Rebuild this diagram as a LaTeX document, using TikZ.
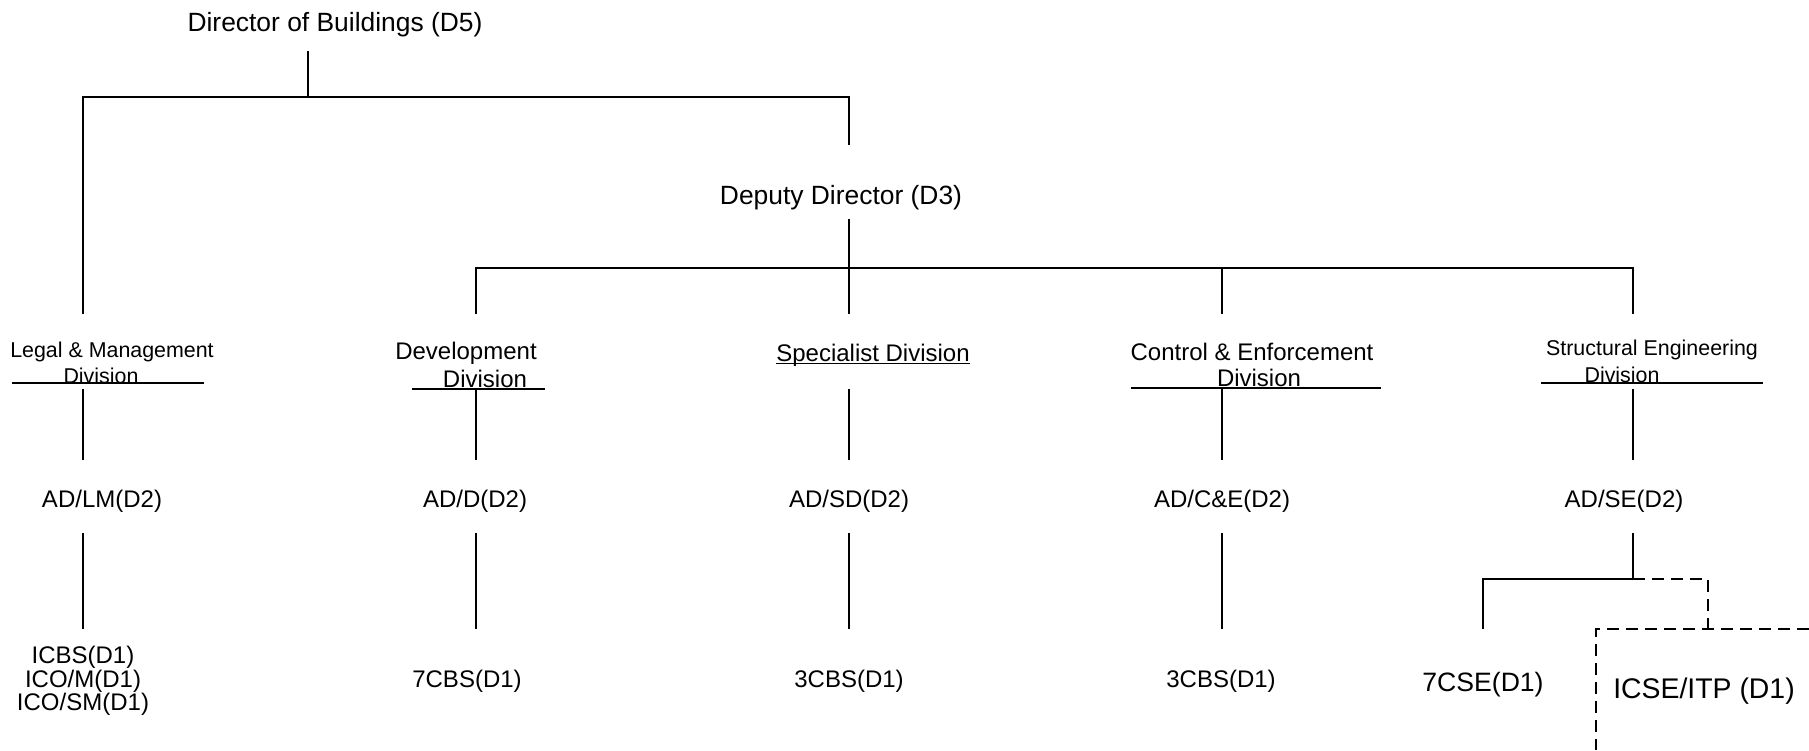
\documentclass[tikz,border=0pt]{standalone}
\usepackage{fontspec}
\setmainfont{Liberation Sans}
\begin{document}
\begin{tikzpicture}[x=0.5pt,y=-0.5pt,
  lbl/.style={inner sep=0pt, anchor=center},
  fbig/.style={font=\fontsize{13.2}{16}\selectfont},
  fmid/.style={font=\fontsize{12}{14}\selectfont},
  fsmall/.style={font=\fontsize{10.7}{13}\selectfont},
  conn/.style={line width=1pt},
  uline/.style={line width=0.8pt},
  uthick/.style={line width=1.4pt},
  dsh/.style={line width=1pt, dash pattern=on 6pt off 3.5pt}]
\useasboundingbox (0,0) rectangle (1809,750);

% ---- top level
\node[lbl,fbig] (dir) at (335,25) {Director of Buildings (D5)};
\coordinate (dirS) at (308,51);
\coordinate (j1) at (308,97);
\coordinate (tl) at (83,97);
\coordinate (tr) at (849,97);
\coordinate (lmTop) at (83,314);
\coordinate (depTop) at (849,145);
\draw[conn] (dirS) -- (j1);
\draw[conn] (lmTop) -- (tl) -- (tr) -- (depTop);

\node[lbl,fbig] (dep) at (841,198) {Deputy Director (D3)};
\coordinate (depS) at (849,219);
\coordinate (j2) at (849,268);
\coordinate (h2l) at (476,268);
\coordinate (h2c) at (1222,268);
\coordinate (h2r) at (1633,268);
\coordinate (devTop) at (476,314);
\coordinate (spTop) at (849,314);
\coordinate (ceTop) at (1222,314);
\coordinate (seTop) at (1633,314);
\draw[conn] (depS) -- (j2) -- (spTop);
\draw[conn] (devTop) -- (h2l) -- (h2r) -- (seTop);
\draw[conn] (h2c) -- (ceTop);

% ---- divisions
\node[lbl,fsmall] (lmA) at (112,352) {Legal \& Management};
\node[lbl,fsmall] (lmB) at (101,376) {Division};
\coordinate (lmUL) at (12,383); \coordinate (lmUR) at (204,383);
\draw[uline] (lmUL) -- (lmUR);

\node[lbl,fmid] (devA) at (466,353) {Development};
\node[lbl,fmid] (devB) at (485,379) {Division};
\coordinate (devUL) at (412,389); \coordinate (devUR) at (545,389);
\draw[uthick] (devUL) -- (devUR);

\node[lbl,fmid] (sp) at (873,355) {Specialist Division};
\draw[uline] ([yshift=-1.2pt]sp.base west) -- ([yshift=-1.2pt]sp.base east);

\node[lbl,fmid] (ceA) at (1252,352) {Control \& Enforcement};
\node[lbl,fmid] (ceB) at (1259,378) {Division};
\coordinate (ceUL) at (1131,388); \coordinate (ceUR) at (1381,388);
\draw[uthick] (ceUL) -- (ceUR);

\node[lbl,fsmall] (seA) at (1652,350) {Structural Engineering};
\node[lbl,fsmall] (seB) at (1622,375) {Division};
\coordinate (seUL) at (1541,383); \coordinate (seUR) at (1763,383);
\draw[uline] (seUL) -- (seUR);

% ---- division to AD
\foreach \n/\x in {lm/83,dev/476,sp/849,ce/1222,se/1633}{
  \coordinate (\n V1) at (\x,389);
  \coordinate (\n V2) at (\x,460);
  \coordinate (\n V3) at (\x,533);
}
\draw[conn] (lmV1) -- (lmV2);
\draw[conn] (devV1) -- (devV2);
\draw[conn] (spV1) -- (spV2);
\draw[conn] (ceV1) -- (ceV2);
\draw[conn] (seV1) -- (seV2);

\node[lbl,fmid] (adlm) at (102,501) {AD/LM(D2)};
\node[lbl,fmid] (add) at (475,501) {AD/D(D2)};
\node[lbl,fmid] (adsd) at (849,501) {AD/SD(D2)};
\node[lbl,fmid] (adce) at (1222,501) {AD/C\&E(D2)};
\node[lbl,fmid] (adse) at (1624,501) {AD/SE(D2)};

% ---- AD to D1
\foreach \n/\x in {lm/83,dev/476,sp/849,ce/1222}{
  \coordinate (\n V4) at (\x,629);
}
\draw[conn] (lmV3) -- (lmV4);
\draw[conn] (devV3) -- (devV4);
\draw[conn] (spV3) -- (spV4);
\draw[conn] (ceV3) -- (ceV4);

\node[lbl,align=center,font=\fontsize{12}{11.8}\selectfont] (lmD1) at (83,681) {ICBS(D1)\\ICO/M(D1)\\ICO/SM(D1)};
\node[lbl,fmid] (devD1) at (467,681) {7CBS(D1)};
\node[lbl,fmid] (spD1) at (849,681) {3CBS(D1)};
\node[lbl,fmid] (ceD1) at (1221,681) {3CBS(D1)};

% ---- structural engineering branch
\coordinate (seJ) at (1633,579);
\coordinate (seL) at (1483,579);
\coordinate (seLB) at (1483,629);
\coordinate (seR) at (1708,579);
\coordinate (seRB) at (1708,629);
\coordinate (boxR) at (1809,629);
\coordinate (boxTL) at (1596,629);
\coordinate (boxBL) at (1596,750);
\draw[conn] (seV3) -- (seJ);
\draw[conn] (seJ) -- (seL) -- (seLB);
\draw[dsh] (seJ) -- (seR) -- (seRB);
\draw[dsh] (boxR) -- (boxTL) -- (boxBL);

\node[lbl,font=\fontsize{13.3}{16}\selectfont] (cse) at (1483,685) {7CSE(D1)};
\node[lbl,font=\fontsize{14.2}{17}\selectfont] (icse) at (1704,691) {ICSE/ITP (D1)};
\end{tikzpicture}
\end{document}
